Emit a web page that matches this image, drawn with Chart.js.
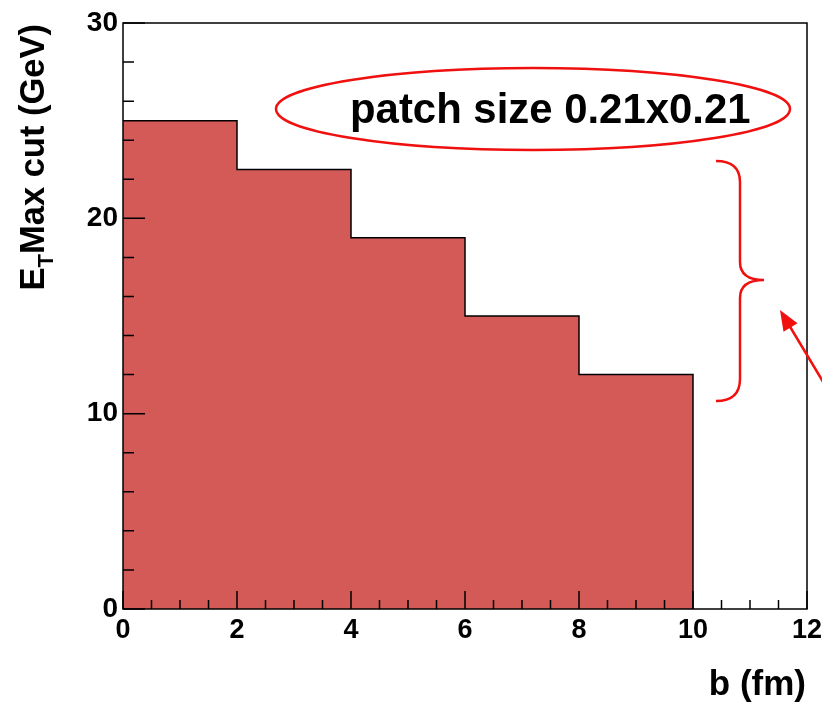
<!DOCTYPE html>
<html lang="en">
<head>
    <meta charset="UTF-8">
    <title>ET Max cut vs b</title>
    <script src="https://cdn.jsdelivr.net/npm/chart.js"></script>
    <style>
        html, body { margin: 0; padding: 0; background: #fff; }
        #wrap { width: 822px; height: 704px; }
    </style>
</head>
<body>
    <div id="wrap"><canvas id="cutChart"></canvas></div>

    <script>
        // histogram: bin edges in b (fm) and the cut value in each bin
        const binEdges = [0, 2, 4, 6, 8, 10];
        const binContents = [25, 22.5, 19, 15, 12];
        const xTicks = [0, 2, 4, 6, 8, 10, 12];
        const yTicks = [0, 10, 20, 30];
        const patchLabel = 'patch size 0.21x0.21';

        const FONT = "'Liberation Sans', Arial, Helvetica, sans-serif";
        const fillRed = '#D45A57';
        const markRed = '#F01010';

        // step outline: each edge carries the content of the bin that starts there
        const histPoints = binEdges.map((e, i) => ({ x: e, y: binContents[Math.min(i, binContents.length - 1)] }));
        histPoints.push({ x: binEdges[binEdges.length - 1], y: 0 });

        const framePlugin = {
            id: 'rootFrame',
            afterDatasetsDraw(chart) {
                const { ctx, chartArea: a, scales } = chart;
                const xs = scales.x, ys = scales.y;
                ctx.save();
                ctx.strokeStyle = '#000';
                ctx.lineWidth = 1.5;
                ctx.strokeRect(a.left, a.top, a.right - a.left, a.bottom - a.top);
                ctx.beginPath();
                // y ticks, inward from left axis
                for (let v = ys.min; v <= ys.max + 1e-9; v += 2) {
                    const py = ys.getPixelForValue(v);
                    const len = (v % 10 === 0) ? 22 : 11;
                    ctx.moveTo(a.left, py);
                    ctx.lineTo(a.left + len, py);
                }
                // x ticks, inward from bottom axis
                for (let v = xs.min; v <= xs.max + 1e-9; v += 0.5) {
                    const px = xs.getPixelForValue(v);
                    const len = (Math.abs(v % 2) < 1e-9) ? 18 : 9;
                    ctx.moveTo(px, a.bottom);
                    ctx.lineTo(px, a.bottom - len);
                }
                ctx.stroke();
                ctx.restore();
            },
            afterDraw(chart) {
                const { ctx, chartArea: a } = chart;
                ctx.save();
                ctx.fillStyle = '#000';

                // x title, right aligned at the frame edge
                ctx.font = 'bold 35px ' + FONT;
                ctx.textAlign = 'right';
                ctx.textBaseline = 'alphabetic';
                ctx.fillText('b (fm)', a.right - 1, 695);

                // y title, rotated, right aligned at the top of the frame
                ctx.save();
                ctx.translate(44, 0);
                ctx.rotate(-Math.PI / 2);
                ctx.textAlign = 'left';
                const big = 'bold 34.5px ' + FONT, small = 'bold 22px ' + FONT;
                ctx.font = big;
                const wE = ctx.measureText('E').width;
                const wRest = ctx.measureText('Max cut (GeV)').width;
                ctx.font = small;
                const wT = ctx.measureText('T').width;
                let u = -(a.top + 1) - (wE + wT + wRest);
                ctx.font = big;
                ctx.fillText('E', u, 0);
                u += wE;
                ctx.font = small;
                ctx.fillText('T', u, 9);
                u += wT;
                ctx.font = big;
                ctx.fillText('Max cut (GeV)', u, 0);
                ctx.restore();

                // annotation: ellipse with patch size label
                ctx.strokeStyle = markRed;
                ctx.lineWidth = 2.5;
                ctx.beginPath();
                ctx.ellipse(533, 109, 257, 41, 0, 0, Math.PI * 2);
                ctx.stroke();
                let fs = 40;
                ctx.font = 'bold ' + fs + 'px ' + FONT;
                fs = fs * 401 / ctx.measureText(patchLabel).width;
                ctx.font = 'bold ' + fs.toFixed(1) + 'px ' + FONT;
                ctx.textAlign = 'left';
                ctx.fillStyle = '#000';
                ctx.fillText(patchLabel, 350, 123);

                // brace
                ctx.beginPath();
                ctx.moveTo(716, 161);
                ctx.quadraticCurveTo(740, 161, 740, 182);
                ctx.lineTo(740, 262);
                ctx.quadraticCurveTo(740, 280, 764, 280);
                ctx.quadraticCurveTo(740, 280, 740, 298);
                ctx.lineTo(740, 379);
                ctx.quadraticCurveTo(740, 401, 716, 401);
                ctx.stroke();

                // arrow pointing at the brace
                const tipX = 780, tipY = 310, fromX = 846, fromY = 420;
                const ang = Math.atan2(tipY - fromY, tipX - fromX);
                ctx.beginPath();
                ctx.moveTo(fromX, fromY);
                ctx.lineTo(tipX - 14 * Math.cos(ang), tipY - 14 * Math.sin(ang));
                ctx.stroke();
                ctx.fillStyle = markRed;
                ctx.beginPath();
                ctx.moveTo(tipX, tipY);
                ctx.lineTo(tipX - 22 * Math.cos(ang - 0.38), tipY - 22 * Math.sin(ang - 0.38));
                ctx.lineTo(tipX - 22 * Math.cos(ang + 0.38), tipY - 22 * Math.sin(ang + 0.38));
                ctx.closePath();
                ctx.fill();
                ctx.restore();
            }
        };

        new Chart(document.getElementById('cutChart'), {
            type: 'line',
            data: {
                datasets: [{
                    data: histPoints,
                    stepped: true,
                    fill: 'origin',
                    backgroundColor: fillRed,
                    borderColor: '#000',
                    borderWidth: 1.5,
                    pointRadius: 0
                }]
            },
            options: {
                responsive: true,
                maintainAspectRatio: false,
                animation: false,
                layout: { padding: { top: 23, right: 15, left: 0, bottom: 0 } },
                plugins: { legend: { display: false }, tooltip: { enabled: false } },
                scales: {
                    x: {
                        type: 'linear',
                        min: 0,
                        max: 12,
                        afterFit: s => { s.height = 95; s.paddingLeft = 0; s.paddingRight = 0; },
                        afterBuildTicks: s => { s.ticks = xTicks.map(v => ({ value: v })); },
                        grid: { display: false, drawTicks: false },
                        border: { display: false },
                        ticks: {
                            padding: 5,
                            color: '#000',
                            maxRotation: 0,
                            font: { family: FONT, size: 27, weight: 'bold' }
                        }
                    },
                    y: {
                        type: 'linear',
                        min: 0,
                        max: 30,
                        afterFit: s => { s.width = 123; s.paddingTop = 0; s.paddingBottom = 0; },
                        afterBuildTicks: s => { s.ticks = yTicks.map(v => ({ value: v })); },
                        grid: { display: false, drawTicks: false },
                        border: { display: false },
                        ticks: {
                            padding: 5,
                            color: '#000',
                            font: { family: FONT, size: 28, weight: 'bold' }
                        }
                    }
                }
            },
            plugins: [framePlugin]
        });
    </script>
</body>
</html>
